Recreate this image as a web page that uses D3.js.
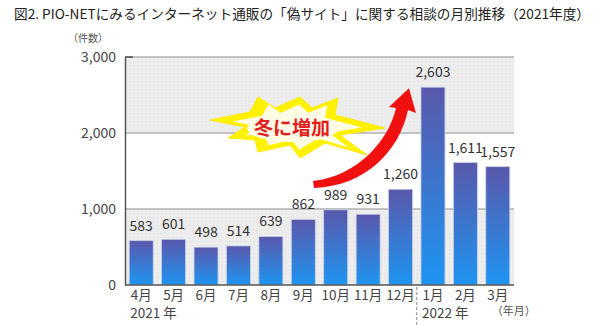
<!DOCTYPE html>
<html><head><meta charset="utf-8">
<script src="https://cdn.jsdelivr.net/npm/d3@7"></script>
<style>body{margin:0;background:#fff}svg{display:block}text{font-family:"Noto Sans CJK JP","Noto Sans",sans-serif}</style>
</head><body><svg id="c" width="602" height="325"></svg>
<script>
const months = ["4月","5月","6月","7月","8月","9月","10月","11月","12月","1月","2月","3月"];
const values = [583,601,498,514,639,862,989,931,1260,2603,1611,1557];
const yTicks = [0,1000,2000,3000];
const yearLabels = [{after:"4月",text:"2021 年"},{after:"1月",text:"2022 年"}];
const title = "図2. PIO-NETにみるインターネット通販の「偽サイト」に関する相談の月別推移（2021年度）";

const svg = d3.select("#c");
const pL=125,pR=514,pT=57,pB=285;
const x = d3.scaleBand().domain(months).range([pL,pR]).paddingInner(0.26).paddingOuter(0.13);
const y = d3.scaleLinear().domain([0,3000]).range([pB,pT]);

const defs = svg.append("defs");
const g1 = defs.append("linearGradient").attr("id","bar").attr("x1",0).attr("x2",0).attr("y1",0).attr("y2",1);
g1.append("stop").attr("offset","0%").attr("stop-color","#5a58ab");
g1.append("stop").attr("offset","100%").attr("stop-color","#1e95f2");
const pat = defs.append("pattern").attr("id","dots").attr("width",4).attr("height",4).attr("patternUnits","userSpaceOnUse");
pat.append("rect").attr("width",4).attr("height",4).attr("fill","#ededed");
pat.append("rect").attr("x",1).attr("y",1).attr("width",1).attr("height",1).attr("fill","#dcdcdc");

svg.append("text").attr("x",14).attr("y",19).attr("font-size",13.6).attr("fill","#222")
  .attr("textLength",576).attr("lengthAdjust","spacingAndGlyphs").text(title);
svg.append("text").attr("x",88).attr("y",42).attr("font-size",10).attr("fill","#555").attr("text-anchor","middle").text("（件数）");

// bands
[[0,1000,"url(#dots)"],[1000,2000,"#fff"],[2000,3000,"url(#dots)"]].forEach(b=>{
  svg.append("rect").attr("x",pL).attr("width",pR-pL).attr("y",y(b[1])).attr("height",y(b[0])-y(b[1])).attr("fill",b[2]);
});
svg.append("g").selectAll("line").data(yTicks.filter(d=>d>0)).join("line")
  .attr("x1",pL).attr("x2",pR).attr("y1",d=>y(d)).attr("y2",d=>y(d)).attr("stroke","#b0b0b0").attr("stroke-width",1.5);

// y axis
const ya = svg.append("g").attr("transform",`translate(${pL},0)`).call(d3.axisLeft(y).tickValues(yTicks).tickSize(0).tickPadding(9).tickFormat(d3.format(",")));
ya.select(".domain").attr("stroke","#555").attr("stroke-width",1.5);
ya.selectAll("text").attr("font-size",14).attr("fill","#444").attr("font-family","'Noto Sans','DejaVu Sans',sans-serif");
svg.append("line").attr("x1",pL).attr("x2",pL+8).attr("y1",pT).attr("y2",pT).attr("stroke","#555").attr("stroke-width",1.5);

// bars
svg.append("g").selectAll("rect").data(values).join("rect")
  .attr("x",(d,i)=>x(months[i])).attr("width",x.bandwidth())
  .attr("y",d=>y(d)).attr("height",d=>y(0)-y(d))
  .attr("fill","url(#bar)").attr("stroke","#c8d0e8").attr("stroke-width",0.8);

svg.append("g").selectAll("text").data(values).join("text")
  .attr("x",(d,i)=>x(months[i])+x.bandwidth()/2).attr("y",d=>y(d)-10)
  .attr("text-anchor","middle").attr("font-size",14).attr("fill","#333")
  .attr("font-family","'Noto Sans','DejaVu Sans',sans-serif")
  .text(d3.format(","));

// x axis
const xa = svg.append("g").attr("transform",`translate(0,${pB})`).call(d3.axisBottom(x).tickSize(0).tickPadding(5));
xa.select(".domain").attr("stroke","#555").attr("stroke-width",1.5).attr("d",`M${pL},0H${pR}`);
xa.selectAll("text").attr("font-size",13.5).attr("fill","#444");

yearLabels.forEach(l=>{
  svg.append("text").attr("x",x(l.after)+x.bandwidth()/2-11).attr("y",318).attr("font-size",13.5).attr("fill","#444").text(l.text);
});
svg.append("text").attr("x",x("3月")+x.bandwidth()/2+16).attr("y",315).attr("font-size",11).attr("fill","#555").attr("text-anchor","middle").text("（年月）");
const sepX = (x("12月")+x.bandwidth()+x("1月"))/2;
svg.append("line").attr("x1",sepX).attr("x2",sepX).attr("y1",pB+2).attr("y2",325).attr("stroke","#888").attr("stroke-dasharray","3,2");

// starburst annotation
const cx = 297, cy = 126;
const burstPts = [[-87,-6],[-47,-14],[-39,-29],[-22,-18],[3,-29],[15,-18],[41,-28],[38,-11],[88,2],[43,9],[70,29],[28,17],[3,32],[-7,19],[-39,26],[-42,14],[-69,12],[-52,1]];
const sc = (k)=>burstPts.map(p=>[cx+p[0]*k, cy+p[1]*k]);
svg.append("polygon").attr("points",sc(1).join(" ")).attr("fill","#fff200").attr("stroke","#ffea00").attr("stroke-width",1);
svg.append("polygon").attr("points",sc(0.74).join(" ")).attr("fill","#fffbe4");
svg.append("ellipse").attr("cx",cx-4).attr("cy",cy+2).attr("rx",46).attr("ry",14).attr("fill","#fffbe4");
svg.append("text").attr("x",cx-5).attr("y",cy+9).attr("text-anchor","middle").attr("font-size",19).attr("font-weight","bold").attr("fill","#e31d1d").text("冬に増加");

// curved arrow
const tipX = x("1月")-12, tipY = y(2603)+1;
const p = d3.path();
p.moveTo(313,181);
p.bezierCurveTo(358,176,389,140,396,108);
p.lineTo(389,107);
p.lineTo(tipX,tipY);
p.lineTo(416,113);
p.lineTo(408,110);
p.bezierCurveTo(399,152,365,186,314,188);
p.closePath();
svg.append("path").attr("d",p.toString()).attr("fill","#f01010");
</script></body></html>
